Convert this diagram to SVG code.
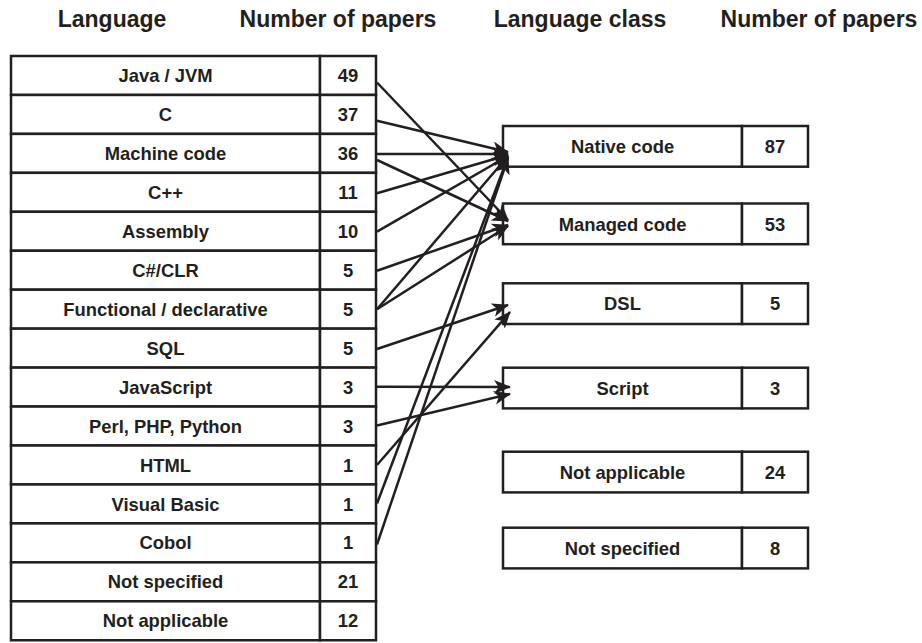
<svg xmlns="http://www.w3.org/2000/svg" width="922" height="643" viewBox="0 0 922 643">
<defs>
<marker id="ah" markerUnits="userSpaceOnUse" markerWidth="20" markerHeight="16" refX="16" refY="7" orient="auto">
<path d="M0,0 L17,7 L0,14 L4.5,7 Z" fill="#231f20"/>
</marker>
</defs>
<style>
.cell{fill:#fff;stroke:#231f20;stroke-width:2.5}
.t{font-family:"Liberation Sans",Arial,sans-serif;font-weight:bold;font-size:18.4px;fill:#231f20;text-anchor:middle}
.h{font-family:"Liberation Sans",Arial,sans-serif;font-weight:bold;font-size:23px;fill:#231f20;text-anchor:middle}
.c{fill:none;stroke:#231f20;stroke-width:2.5;marker-end:url(#ah)}
</style>
<rect width="922" height="643" fill="#fff"/>
<g id="headers">
<text class="h" x="112" y="27">Language</text>
<text class="h" x="338" y="27">Number of papers</text>
<text class="h" x="580" y="27">Language class</text>
<text class="h" x="819" y="27">Number of papers</text>
</g>
<g id="lang-java"><rect class="cell" x="11" y="56" width="309" height="38.95"/><rect class="cell" x="320" y="56" width="56" height="38.95"/><text class="t" x="165.5" y="82">Java / JVM</text><text class="t" x="348" y="82">49</text></g>
<g id="lang-c"><rect class="cell" x="11" y="94.95" width="309" height="38.95"/><rect class="cell" x="320" y="94.95" width="56" height="38.95"/><text class="t" x="165.5" y="120.9">C</text><text class="t" x="348" y="120.9">37</text></g>
<g id="lang-machine"><rect class="cell" x="11" y="133.9" width="309" height="38.95"/><rect class="cell" x="320" y="133.9" width="56" height="38.95"/><text class="t" x="165.5" y="159.9">Machine code</text><text class="t" x="348" y="159.9">36</text></g>
<g id="lang-cpp"><rect class="cell" x="11" y="172.85" width="309" height="38.95"/><rect class="cell" x="320" y="172.85" width="56" height="38.95"/><text class="t" x="165.5" y="198.9">C++</text><text class="t" x="348" y="198.9">11</text></g>
<g id="lang-asm"><rect class="cell" x="11" y="211.8" width="309" height="38.95"/><rect class="cell" x="320" y="211.8" width="56" height="38.95"/><text class="t" x="165.5" y="237.8">Assembly</text><text class="t" x="348" y="237.8">10</text></g>
<g id="lang-csharp"><rect class="cell" x="11" y="250.75" width="309" height="38.95"/><rect class="cell" x="320" y="250.75" width="56" height="38.95"/><text class="t" x="165.5" y="276.8">C#/CLR</text><text class="t" x="348" y="276.8">5</text></g>
<g id="lang-functional"><rect class="cell" x="11" y="289.7" width="309" height="38.95"/><rect class="cell" x="320" y="289.7" width="56" height="38.95"/><text class="t" x="165.5" y="315.7">Functional / declarative</text><text class="t" x="348" y="315.7">5</text></g>
<g id="lang-sql"><rect class="cell" x="11" y="328.65" width="309" height="38.95"/><rect class="cell" x="320" y="328.65" width="56" height="38.95"/><text class="t" x="165.5" y="354.7">SQL</text><text class="t" x="348" y="354.7">5</text></g>
<g id="lang-js"><rect class="cell" x="11" y="367.6" width="309" height="38.95"/><rect class="cell" x="320" y="367.6" width="56" height="38.95"/><text class="t" x="165.5" y="393.6">JavaScript</text><text class="t" x="348" y="393.6">3</text></g>
<g id="lang-perl"><rect class="cell" x="11" y="406.55" width="309" height="38.95"/><rect class="cell" x="320" y="406.55" width="56" height="38.95"/><text class="t" x="165.5" y="432.6">Perl, PHP, Python</text><text class="t" x="348" y="432.6">3</text></g>
<g id="lang-html"><rect class="cell" x="11" y="445.5" width="309" height="38.95"/><rect class="cell" x="320" y="445.5" width="56" height="38.95"/><text class="t" x="165.5" y="471.5">HTML</text><text class="t" x="348" y="471.5">1</text></g>
<g id="lang-vb"><rect class="cell" x="11" y="484.45" width="309" height="38.95"/><rect class="cell" x="320" y="484.45" width="56" height="38.95"/><text class="t" x="165.5" y="510.5">Visual Basic</text><text class="t" x="348" y="510.5">1</text></g>
<g id="lang-cobol"><rect class="cell" x="11" y="523.4" width="309" height="38.95"/><rect class="cell" x="320" y="523.4" width="56" height="38.95"/><text class="t" x="165.5" y="549.4">Cobol</text><text class="t" x="348" y="549.4">1</text></g>
<g id="lang-notspec"><rect class="cell" x="11" y="562.35" width="309" height="38.95"/><rect class="cell" x="320" y="562.35" width="56" height="38.95"/><text class="t" x="165.5" y="588.4">Not specified</text><text class="t" x="348" y="588.4">21</text></g>
<g id="lang-notappl"><rect class="cell" x="11" y="601.3" width="309" height="38.95"/><rect class="cell" x="320" y="601.3" width="56" height="38.95"/><text class="t" x="165.5" y="627.3">Not applicable</text><text class="t" x="348" y="627.3">12</text></g>
<g id="class-native"><rect class="cell" x="503" y="126" width="239" height="40.7"/><rect class="cell" x="742" y="126" width="66" height="40.7"/><text class="t" x="622.5" y="153">Native code</text><text class="t" x="775" y="153">87</text></g>
<g id="class-managed"><rect class="cell" x="503" y="203.5" width="239" height="40.7"/><rect class="cell" x="742" y="203.5" width="66" height="40.7"/><text class="t" x="622.5" y="230.5">Managed code</text><text class="t" x="775" y="230.5">53</text></g>
<g id="class-dsl"><rect class="cell" x="503" y="283.3" width="239" height="40.7"/><rect class="cell" x="742" y="283.3" width="66" height="40.7"/><text class="t" x="622.5" y="310.3">DSL</text><text class="t" x="775" y="310.3">5</text></g>
<g id="class-script"><rect class="cell" x="503" y="367.7" width="239" height="40.7"/><rect class="cell" x="742" y="367.7" width="66" height="40.7"/><text class="t" x="622.5" y="394.7">Script</text><text class="t" x="775" y="394.7">3</text></g>
<g id="class-notappl"><rect class="cell" x="503" y="451.7" width="239" height="40.7"/><rect class="cell" x="742" y="451.7" width="66" height="40.7"/><text class="t" x="622.5" y="478.7">Not applicable</text><text class="t" x="775" y="478.7">24</text></g>
<g id="class-notspec"><rect class="cell" x="503" y="527.7" width="239" height="40.7"/><rect class="cell" x="742" y="527.7" width="66" height="40.7"/><text class="t" x="622.5" y="554.7">Not specified</text><text class="t" x="775" y="554.7">8</text></g>
<g id="connectors">
<path class="c" d="M377,82.5 L508,220"/>
<path class="c" d="M377,120.7 L508,152"/>
<path class="c" d="M377,154 L508,154"/>
<path class="c" d="M377,160 L508,221"/>
<path class="c" d="M377,193.3 L508,155"/>
<path class="c" d="M377,231.7 L508,156"/>
<path class="c" d="M377,270.7 L508,225"/>
<path class="c" d="M377,309.3 L508,156"/>
<path class="c" d="M377,309.3 L508,226"/>
<path class="c" d="M377,349 L508,305"/>
<path class="c" d="M377,386.7 L510,387"/>
<path class="c" d="M377,425.5 L510,394"/>
<path class="c" d="M377,465 L510,312"/>
<path class="c" d="M377,503.5 L508,157"/>
<path class="c" d="M377,544.5 L508,158"/>
</g>
</svg>
